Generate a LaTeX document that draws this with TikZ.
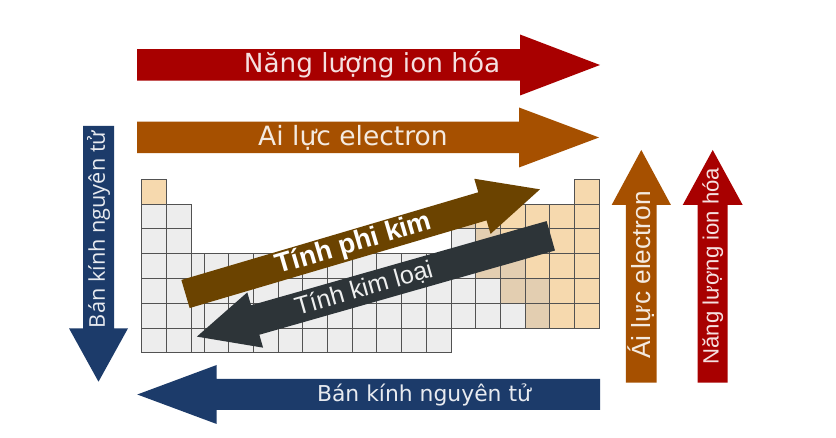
\documentclass[tikz,border=0pt]{standalone}
\usepackage{fontspec}
\setmainfont{DejaVu Sans}
\newfontfamily\libsans{Liberation Sans}
\newfontfamily\opensans{Open Sans}
\usepackage{tikz}

\definecolor{ionred}{HTML}{A80000}
\definecolor{affbrown}{HTML}{A65000}
\definecolor{radblue}{HTML}{1C3B6A}
\definecolor{nonmetbrown}{HTML}{6B4300}
\definecolor{metdark}{HTML}{2D3438}
\definecolor{nonmetal}{HTML}{F6D9AE}
\definecolor{metalloid}{HTML}{E3CEB1}
\definecolor{cellgray}{HTML}{EDEDED}

% colour, tail, angle, length, shaft width, head width, head length
\newcommand{\trendarrow}[7]{%
  \begin{scope}[shift={#2},rotate=#3]
    \fill[#1] (0,-#5/2) -- (#4-#7,-#5/2) -- (#4-#7,-#6/2) -- (#4,0)
      -- (#4-#7,#6/2) -- (#4-#7,#5/2) -- (0,#5/2) -- cycle;
  \end{scope}}

% column, period, fill
\newcommand{\pcell}[3]{%
  \ifnum#1<3 \def\cellx{141.7+(#1-1)*24.7}\else\def\cellx{204+(#1-3)*24.7}\fi
  \filldraw[cellbox,fill=#3] ({\cellx},{179.3+(#2-1)*24.8}) rectangle ++(24.7,24.8);}

\begin{document}
\begin{tikzpicture}[x=0.75pt,y=-0.75pt,
    cellbox/.style={draw=black!68,line width=0.7pt},
    lbl/.style={inner sep=0pt}]
  \fill[white] (0,0) rectangle (836,438);

  % table
  \foreach \c in {1,2} \foreach \r in {2,...,7} {\pcell{\c}{\r}{cellgray}}
  \foreach \c in {3,...,12} \foreach \r in {4,...,7} {\pcell{\c}{\r}{cellgray}}
  \foreach \c in {13,...,18} \foreach \r in {2,...,6} {\pcell{\c}{\r}{cellgray}}
  \foreach \r in {4,...,7}
    \filldraw[cellbox,fill=cellgray] (191.1,{179.3+(\r-1)*24.8}) rectangle (204,{179.3+\r*24.8});
  \foreach \c/\r in {1/1,18/1,14/2,15/2,16/2,17/2,18/2,15/3,16/3,17/3,18/3,
      16/4,17/4,18/4,17/5,18/5,17/6,18/6} {\pcell{\c}{\r}{nonmetal}}
  \foreach \c/\r in {13/2,14/3,14/4,15/4,15/5,16/5,16/6} {\pcell{\c}{\r}{metalloid}}

  % arrows
  \trendarrow{ionred}{(137,65)}{0}{463}{31.5}{61}{80}
  \trendarrow{affbrown}{(137,137.5)}{0}{462}{31.5}{60}{80}
  \trendarrow{radblue}{(600,394.5)}{180}{462.7}{31}{59}{79.4}
  \trendarrow{radblue}{(98.5,126)}{-90}{255.7}{31}{59}{53.4}
  \trendarrow{affbrown}{(641.3,382.7)}{90}{232.7}{30.7}{59.3}{55}
  \trendarrow{ionred}{(712.7,382.7)}{90}{232.7}{30}{60}{55}
  \trendarrow{nonmetbrown}{(185.5,294)}{16.45}{369.6}{29.3}{57.5}{60}
  \trendarrow{metdark}{(550.8,235.8)}{195.9}{368}{30.6}{57.5}{60.6}

  % labels
  \node[lbl,text=white!88!ionred,font=\fontsize{19.7}{20}\selectfont] (ionTop) at (372,65) {Năng lượng ion hóa};
  \node[lbl,text=white!88!affbrown,font=\fontsize{19.9}{20}\selectfont] (affTop) at (353,137.5) {Ai lực electron};
  \node[lbl,text=white!90!radblue,font=\fontsize{16.4}{17}\selectfont] (radBottom) at (424,394.5) {Bán kính nguyên tử};
  \node[lbl,rotate=90,text=white!90!radblue,font=\opensans\fontsize{16.3}{17}\selectfont] (radSide) at (98.5,229.4) {Bán kính nguyên tử};
  \node[lbl,rotate=90,text=white!88!affbrown,font=\libsans\fontsize{19.7}{20}\selectfont] (affSide) at (641.3,275) {Ái lực electron};
  \node[lbl,rotate=90,text=white!88!ionred,font=\libsans\fontsize{16.6}{17}\selectfont] (ionSide) at (712.7,266) {Năng lượng ion hóa};
  \node[lbl,rotate=16.45,text=white,font=\libsans\bfseries\fontsize{20.5}{21}\selectfont] (nonmetTxt) at (354,244.3) {Tính phi kim};
  \node[lbl,rotate=15.9,text=white!92!metdark,font=\libsans\fontsize{18.8}{19}\selectfont] (metTxt) at (364,289) {Tính kim loại};
\end{tikzpicture}
\end{document}
